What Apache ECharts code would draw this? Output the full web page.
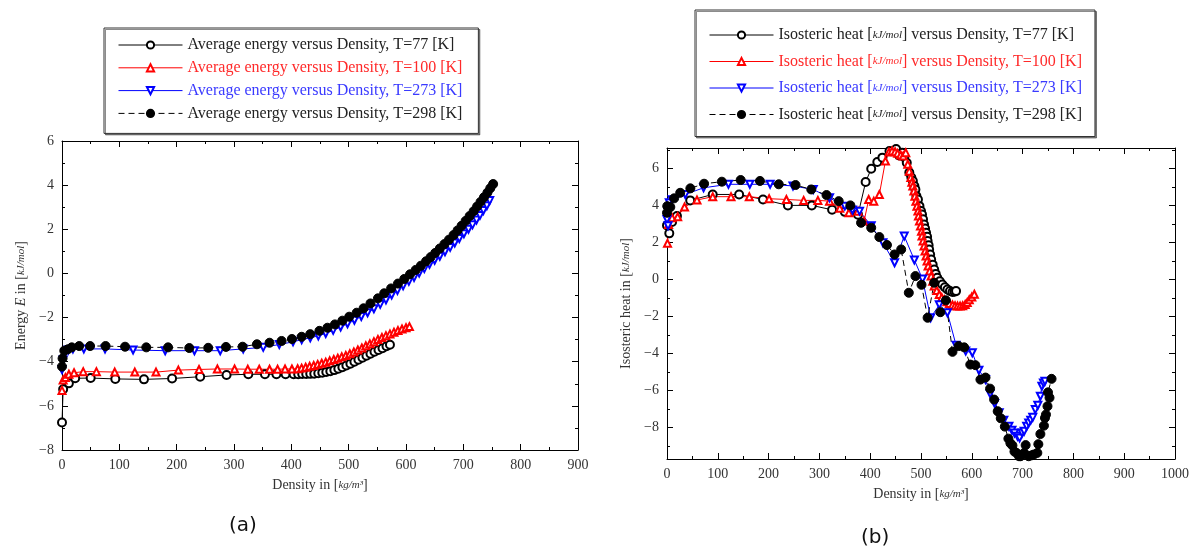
<!DOCTYPE html>
<html><head><meta charset="utf-8">
<script src="https://cdn.jsdelivr.net/npm/echarts@6/dist/echarts.min.js"></script>
<style>html,body{margin:0;padding:0;background:#fff}#c{width:1192px;height:548px}</style>
</head><body><div id="c"></div>
<script>
// ---------- (a) Average energy vs density ----------
const energy77 = [[0,-6.75],[2,-5.25],[12,-4.98],[23,-4.75],[50,-4.74],[93,-4.78],[143,-4.8],[192,-4.76],[241,-4.68],[287,-4.6],[325,-4.57],[354,-4.57],[374,-4.57],[390,-4.57],
 [404,-4.57],[412,-4.57],[419,-4.56],[426,-4.56],[433,-4.55],[440,-4.54],[447,-4.52],[454,-4.5],[461,-4.47],[468,-4.43],[475,-4.38],[482,-4.32],[489,-4.25],[496,-4.17],[503,-4.09],[510,-4.0],[517,-3.91],[524,-3.82],[531,-3.73],[538,-3.64],[545,-3.55],[552,-3.47],[559,-3.39],[566,-3.3],[572,-3.23]];
const energy100 = [[0,-5.3],[2,-4.83],[6,-4.72],[12,-4.57],[21,-4.5],[37,-4.45],[60,-4.45],[92,-4.47],[127,-4.47],[164,-4.47],[203,-4.38],[239,-4.35],[271,-4.33],[301,-4.33],[324,-4.34],[344,-4.34],[362,-4.34],[376,-4.34],[389,-4.33],[401,-4.33],
 [411,-4.32],[418,-4.29],[425,-4.25],[432,-4.21],[439,-4.17],[446,-4.12],[453,-4.07],[460,-4.02],[467,-3.96],[474,-3.9],[481,-3.84],[488,-3.78],[495,-3.72],[502,-3.64],[509,-3.56],[516,-3.47],[523,-3.38],[530,-3.28],[537,-3.19],[544,-3.09],[551,-2.99],[558,-2.9],[565,-2.82],[572,-2.74],[579,-2.66],[586,-2.59],[593,-2.52],[600,-2.46],[606,-2.41]];
const energy273 = [[0,-4.35],[2,-3.92],[5,-3.62],[11,-3.47],[19,-3.42],[38,-3.42],[75,-3.42],[124,-3.47],[180,-3.5],[231,-3.5],[276,-3.5],[316,-3.42],[351,-3.35],[379,-3.22],[403,-3.1],[418,-3.0],[433,-2.92],[447,-2.83],[460,-2.72],[473,-2.58],[486,-2.43],[498,-2.28],[510,-2.12],[522,-1.95],[533,-1.78],[544,-1.6],[555,-1.4],[565,-1.2],[575,-0.98],[585,-0.77],[595,-0.56],[605,-0.36],[614,-0.18],[623,0.02],[632,0.22],[641,0.41],[650,0.6],[659,0.78],[668,0.98],[677,1.18],[685,1.38],[693,1.58],[701,1.8],[709,2.0],[716,2.2],[723,2.42],[729,2.63],[735,2.85],[741,3.07],[746,3.3]];
const energy298 = [[0,-4.22],[1,-3.85],[4,-3.5],[10,-3.44],[17,-3.35],[30,-3.29],[49,-3.29],[76,-3.29],[110,-3.32],[147,-3.35],[185,-3.35],[222,-3.38],[255,-3.37],[286,-3.33],[315,-3.32],[340,-3.21],[362,-3.14],[383,-3.06],[401,-2.97],[418,-2.87],[433,-2.75],[449,-2.6],[463,-2.46],[476,-2.31],[489,-2.14],[501,-1.96],[514,-1.78],[526,-1.58],[538,-1.36],[551,-1.13],[562,-0.9],[574,-0.68],[586,-0.46],[597,-0.25],[607,-0.04],[617,0.16],[626,0.35],[635,0.55],[643,0.74],[651,0.93],[659,1.13],[667,1.33],[675,1.53],[683,1.74],[690,1.95],[697,2.16],[704,2.38],[711,2.6],[718,2.82],[724,3.03],[730,3.24],[736,3.45],[742,3.66],[747,3.86],[752,4.05]];

// ---------- (b) Isosteric heat vs density ----------
const heat77 = [[0,2.92],[4.5,2.49],[10,3.1],[19.6,3.42],[45.7,4.27],[90,4.59],[142,4.59],[189,4.32],[238,4.0],[285,4.0],[325,3.76],[350,3.65],[376,3.5],[391,5.26],[402,5.98],[414,6.34],[424,6.58],[438,6.94],[451,7.05],[457,6.7],[463,6.85],[467,6.6],[472,6.3],[477,5.77],[481,5.5],[484,5.32],[487,5.05],[489,4.86],[491,4.5],[494,4.32],[497,3.96],[500,3.7],[502,3.51],[504,3.25],[506,2.97],[508,2.75],[510,2.52],[512,2.3],[513,2.07],[515,1.85],[516,1.62],[518,1.35],[520,1.08],[523,0.8],[526,0.54],[529,0.3],[532,0.09],[537,-0.1],[542,-0.27],[547,-0.42],[552,-0.54],[557,-0.62],[562,-0.68],[566,-0.66],[569,-0.63]];
const heat100 = [[1,1.95],[3,2.97],[10,3.33],[21,3.39],[34.5,3.91],[59,4.29],[90,4.47],[126,4.47],[162,4.47],[201,4.36],[235,4.32],[269,4.27],[297,4.27],[320,4.23],[340,3.84],[358,3.6],[376,3.69],[388,3.15],[397,4.32],[407,4.23],[418,4.59],[430,6.4],[437,6.88],[443,6.94],[449,6.9],[454,6.81],[460,6.72],[465,6.67],[470,6.85],[474,6.22],[477,5.85],[480,5.5],[482,5.25],[484,5.05],[486,4.78],[488,4.5],[490,4.22],[492,3.96],[494,3.7],[495,3.42],[497,3.15],[499,2.88],[501,2.6],[502,2.34],[504,2.07],[506,1.8],[508,1.53],[510,1.26],[512,1.0],[514,0.72],[517,0.45],[520,0.18],[523,-0.1],[526,-0.36],[531,-0.6],[536,-0.81],[541,-0.98],[546,-1.1],[551,-1.2],[556,-1.3],[562,-1.38],[567,-1.42],[572,-1.44],[577,-1.44],[582,-1.42],[587,-1.35],[591,-1.25],[595,-1.1],[600,-0.95],[605,-0.8]];
const heat273 = [[0,3.24],[2,2.9],[4.5,4.14],[10,4.3],[36,4.59],[72,4.95],[121,5.14],[163,5.14],[203,5.14],[248,5.05],[288,4.86],[320,4.41],[350,3.96],[365,3.75],[379,3.69],[402,2.9],[425,1.98],[448,0.9],[467,2.34],[487,1.05],[503,0.02],[519,-2.07],[536,-1.37],[552,-1.8],[569,-3.55],[588,-3.87],[601,-3.96],[614,-4.9],[627,-5.41],[636,-6.17],[645,-6.7],[654,-7.2],[663,-7.6],[673,-7.93],[679,-8.15],[684,-8.3],[690,-8.47],[694,-8.56],[699,-8.29],[703,-8.2],[708,-7.93],[712,-7.75],[716,-7.6],[720,-7.45],[725,-7.03],[730,-6.8],[735,-6.31],[738,-5.77],[741,-5.6],[744,-5.5]];
const heat298 = [[0,3.6],[0.5,3.96],[6.5,3.91],[14,4.38],[26,4.68],[46,4.92],[73,5.17],[108,5.28],[145,5.37],[183,5.32],[220,5.14],[253,5.1],[284,4.86],[314,4.56],[338,4.23],[361,4.0],[382,3.06],[402,2.79],[418,2.29],[433,1.86],[448,1.35],[461,1.62],[476,-0.72],[489,0.18],[501,-0.29],[513,-2.07],[526,-0.18],[538,-1.77],[549,-1.13],[562,-3.91],[574,-3.6],[585,-3.67],[597,-4.6],[607,-4.63],[617,-5.41],[627,-5.3],[636,-5.9],[644,-6.49],[651,-7.12],[657,-7.5],[665,-7.95],[672,-8.6],[676,-8.85],[680,-8.97],[684,-9.3],[688,-9.37],[693,-9.55],[696,-9.55],[703,-9.37],[706,-8.95],[712,-9.55],[718,-9.5],[722,-9.46],[729,-9.37],[731,-8.9],[735,-8.35],[742,-7.9],[744,-7.48],[746,-7.3],[749,-6.85],[753,-6.39],[750,-6.1],[757,-5.37]];

const heatMajorTicks = [-8,-6,-4,-2,0,2,4,6];
const heatMinorTicks = [-9,-7,-5,-3,-1,1,3,5,7];

const namesA = ['Average energy versus Density, T=77 [K]','Average energy versus Density, T=100 [K]','Average energy versus Density, T=273 [K]','Average energy versus Density, T=298 [K]'];
const namesB = ['Isosteric heat [kJ/mol] versus Density, T=77 [K]','Isosteric heat [kJ/mol] versus Density, T=100 [K]','Isosteric heat [kJ/mol] versus Density, T=273 [K]','Isosteric heat [kJ/mol] versus Density, T=298 [K]'];

const FONT = 'Liberation Serif';
const txtCols = ['#222','#ff2a2a','#3a3aff','#222'];
const fmtNum = v => String(v).replace('-','\u2212');

function xAx(grid, max, top) {
  return {
    type:'value', gridIndex:grid, min:0, max:max, interval:100, position: top?'top':'bottom',
    axisLine:{show:true, onZero:false, lineStyle:{color:'#000', width:1}},
    axisTick:{show:true, inside:true, length:6, lineStyle:{color:'#000'}},
    minorTick:{show:true, splitNumber:2, length:3, lineStyle:{color:'#000'}},
    splitLine:{show:false},
    axisLabel:{show:!top, color:'#333', fontFamily:FONT, fontSize:14, margin:8, formatter:fmtNum},
    name: top?'':'Density in [{f|kg/m³}]', nameLocation:'middle', nameGap:28,
    nameTextStyle:{color:'#333', fontFamily:FONT, fontSize:14, rich:{f:{fontFamily:FONT, fontSize:11, fontStyle:'italic', color:'#333'}}}
  };
}
function yAxA(right) {
  return {
    type:'value', gridIndex:0, min:-8, max:6, interval:2, position: right?'right':'left',
    axisLine:{show:true, onZero:false, lineStyle:{color:'#000', width:1}},
    axisTick:{show:true, inside:true, length:6, lineStyle:{color:'#000'}},
    minorTick:{show:true, splitNumber:2, length:3, lineStyle:{color:'#000'}},
    splitLine:{show:false},
    axisLabel:{show:!right, color:'#333', fontFamily:FONT, fontSize:14, margin:8, formatter:fmtNum},
    name: right?'':'Energy {i|E} in [{f|kJ/mol}]', nameLocation:'middle', nameGap:34, nameRotate:90,
    nameTextStyle:{color:'#333', fontFamily:FONT, fontSize:14, rich:{i:{fontFamily:FONT, fontSize:14, fontStyle:'italic', color:'#333'}, f:{fontFamily:FONT, fontSize:11, fontStyle:'italic', color:'#333'}}}
  };
}
function yAxB(right, minor) {
  return {
    type:'value', gridIndex:1, min:-9.7, max:7.1, position: right?'right':'left',
    axisLine:{show:!minor, onZero:false, lineStyle:{color:'#000', width:1}},
    axisTick:{show:true, inside:true, length: minor?3:6, customValues: minor?heatMinorTicks:heatMajorTicks, lineStyle:{color:'#000'}},
    splitLine:{show:false},
    axisLabel:{show:!right && !minor, customValues: heatMajorTicks, color:'#333', fontFamily:FONT, fontSize:14, margin:8, formatter:fmtNum},
    name: (right||minor)?'':'Isosteric heat in [{f|kJ/mol}]', nameLocation:'middle', nameGap:34, nameRotate:90,
    nameTextStyle:{color:'#333', fontFamily:FONT, fontSize:14, rich:{f:{fontFamily:FONT, fontSize:11, fontStyle:'italic', color:'#333'}}}
  };
}

function mk(name, data, idx, xi, yi) {
  const styles = [
    {symbol:'emptyCircle', size:8, color:'#000', type:'solid', rot:0},
    {symbol:'emptyTriangle', size:7, color:'#ff0000', type:'solid', rot:0},
    {symbol:'emptyTriangle', size:7, color:'#0000ff', type:'solid', rot:180},
    {symbol:'circle', size:9, color:'#000', type:[6,4], rot:0}
  ][idx];
  return {
    type:'line', name:name, data:data, xAxisIndex:xi, yAxisIndex:yi,
    symbol:styles.symbol, symbolSize:styles.size, symbolRotate:styles.rot, showAllSymbol:true,
    lineStyle:{color:styles.color, width:1, type:styles.type},
    itemStyle:{color:styles.color, borderColor:styles.color, borderWidth:1},
    emphasis:{disabled:true}, animation:false, clip:true
  };
}

function legend(names, left, top, pad, gap) {
  return {
    show:true, orient:'vertical', left:left, top:top, data: names.map((n,i)=>({name:n, textStyle:{color:txtCols[i]}})),
    itemWidth:64, itemHeight:9, itemGap:gap, padding:pad,
    borderColor:'#333', borderWidth:1, backgroundColor:'#fff',
    shadowColor:'rgba(0,0,0,0.45)', shadowOffsetX:1.5, shadowOffsetY:1.5, shadowBlur:0,
    selectedMode:false,
    lineStyle:{width:1},
    formatter: n => n.replace('kJ/mol','{f|kJ/mol}'),
    textStyle:{fontFamily:FONT, fontSize:16, lineHeight:14, padding:[0,0,0,0], rich:{f:{fontFamily:FONT, fontSize:11, fontStyle:'italic'}}}
  };
}

const chart = echarts.init(document.getElementById('c'), null, {renderer:'canvas'});
chart.setOption({
  animation:false,
  backgroundColor:'#fff',
  grid:[
    {left:62, top:141, width:516, height:309, containLabel:false},
    {left:667, top:148, width:510, height:311, containLabel:false}
  ],
  xAxis:[xAx(0,900,false), xAx(0,900,true), xAx(1,1000,false), xAx(1,1000,true)],
  yAxis:[yAxA(false), yAxA(true), yAxB(false,false), yAxB(false,true), yAxB(true,false), yAxB(true,true)],
  legend:[
    legend(namesA, 104, 28, [9,16,12,14], 6.8),
    legend(namesB, 695, 10, [17,13,14,14], 10.5)
  ],
  series:[
    mk(namesA[0], energy77, 0, 0, 0),
    mk(namesA[1], energy100, 1, 0, 0),
    mk(namesA[2], energy273, 2, 0, 0),
    mk(namesA[3], energy298, 3, 0, 0),
    mk(namesB[0], heat77, 0, 2, 2),
    mk(namesB[1], heat100, 1, 2, 2),
    mk(namesB[2], heat273, 2, 2, 2),
    mk(namesB[3], heat298, 3, 2, 2)
  ],
  graphic:[
    {type:'text', left:229, top:516, style:{text:'(a)', font:'20px "DejaVu Sans"', fill:'#111'}},
    {type:'text', left:861, top:528, style:{text:'(b)', font:'20px "DejaVu Sans"', fill:'#111'}}
  ]
});
</script></body></html>
